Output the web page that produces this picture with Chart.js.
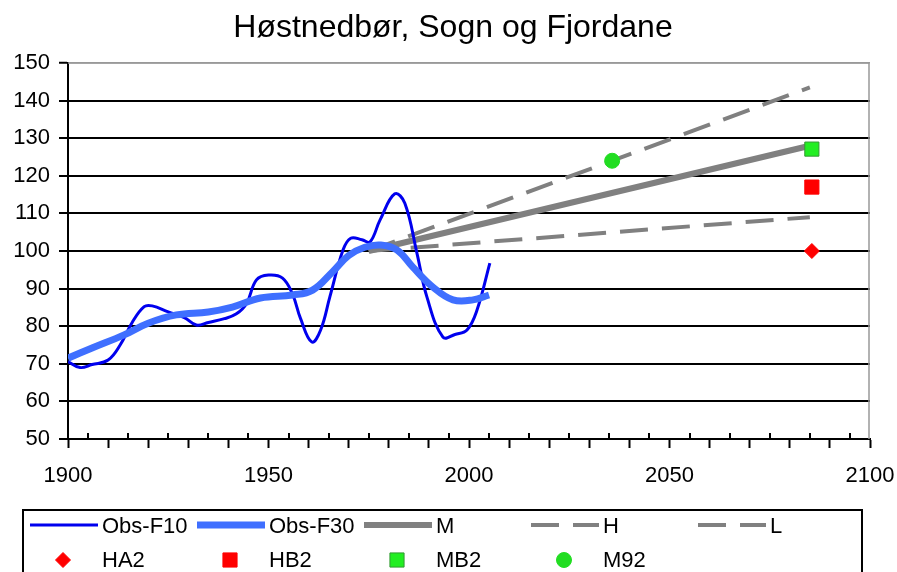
<!DOCTYPE html>
<html>
<head>
<meta charset="utf-8">
<title>Høstnedbør, Sogn og Fjordane</title>
<script src="https://cdn.jsdelivr.net/npm/chart.js@4.4.0/dist/chart.umd.min.js"></script>
<style>
  html, body { margin: 0; padding: 0; background: #fff; }
  #wrap { width: 897px; height: 572px; }
</style>
</head>
<body>
<div id="wrap"><canvas id="chart" width="897" height="572"></canvas></div>
<script>
const chartTitle = 'Høstnedbør, Sogn og Fjordane';

// Observed autumn precipitation, 10-year filter
const f10Years  = [1900, 1903, 1906, 1910, 1913, 1916, 1919, 1921, 1925, 1929, 1932, 1935, 1939, 1942, 1944.5, 1947, 1950, 1953.5, 1956, 1958, 1960.8, 1963, 1965.3, 1968.6, 1970.5, 1973.3, 1975.3, 1977.8, 1981.5, 1984, 1987, 1989.5, 1993.5, 1996.5, 1999.5, 2002, 2005.2];
const f10Values = [70.6, 69.0, 69.8, 71.0, 75.0, 81.0, 85.2, 85.4, 83.8, 82.3, 80.3, 81.0, 82.0, 83.3, 86.0, 92.3, 93.6, 92.8, 88.5, 82.0, 75.8, 79.0, 87.8, 100.3, 103.4, 103.0, 102.4, 108.2, 115.2, 112.7, 99.5, 87.8, 77.1, 77.8, 79.0, 84.3, 96.8];

// Observed, 30-year filter
const f30Years  = [1900, 1906, 1914, 1920, 1927, 1935, 1941, 1948, 1956, 1961, 1966, 1970, 1974, 1978, 1982, 1986, 1991, 1996, 2001, 2005];
const f30Values = [71.5, 74.2, 77.7, 80.8, 83.0, 83.8, 85.1, 87.5, 88.3, 89.6, 94.5, 98.8, 101.0, 101.6, 100.3, 95.7, 90.4, 87.0, 87.0, 88.3];

// Scenario lines (middle, high, low)
const scenYears = [1975, 2085];
const mValues = [100, 128];
const hValues = [100, 143.5];
const lValues = [100, 109];

// Single scenario points
const pointNames  = ['HA2', 'HB2', 'MB2', 'M92'];
const pointYears  = [2085.5, 2085.5, 2085.5, 2035.7];
const pointValues = [100, 117, 127.1, 124];

const xLabelYears = [1900, 1950, 2000, 2050, 2100];

function toXY(xs, ys) {
    return xs.map((x, i) => ({ x: x, y: ys[i] }));
}

const FONT = "'Liberation Sans', Arial, sans-serif";
const GREY = '#808080';

// Title, minor ticks, plot frame and legend
const extrasPlugin = {
    id: 'extras',
    afterDraw(chart) {
        const ctx = chart.ctx;
        const area = chart.chartArea;
        const xs = chart.scales.x;

        ctx.save();
        // title
        ctx.fillStyle = '#000';
        ctx.font = '32px ' + FONT;
        ctx.textAlign = 'center';
        ctx.textBaseline = 'alphabetic';
        ctx.fillText(chartTitle, 453, 37);

        // plot frame, top and right
        ctx.strokeStyle = '#999';
        ctx.lineWidth = 1.5;
        ctx.beginPath();
        ctx.moveTo(area.left, area.top);
        ctx.lineTo(area.right - 1, area.top);
        ctx.lineTo(area.right - 1, area.bottom);
        ctx.stroke();

        // minor ticks pointing inwards
        ctx.strokeStyle = '#000';
        ctx.lineWidth = 2;
        ctx.beginPath();
        for (let yr = 1905; yr < 2100; yr += 10) {
            const px = Math.round(xs.getPixelForValue(yr));
            ctx.moveTo(px, area.bottom);
            ctx.lineTo(px, area.bottom - 6);
        }
        ctx.stroke();

        // legend
        const lx = 23, ly = 510;
        ctx.strokeStyle = '#000';
        ctx.lineWidth = 2;
        ctx.strokeRect(lx, ly, 839, 80);

        ctx.font = '22px ' + FONT;
        ctx.textAlign = 'left';
        ctx.textBaseline = 'middle';
        ctx.fillStyle = '#000';
        const colW = 167, col0 = 30;
        const row1 = 525, row2 = 560;
        const lineItems = chart.data.datasets.filter(d => d.showLine !== false);
        lineItems.forEach((d, i) => {
            const x0 = col0 + i * colW;
            ctx.save();
            ctx.strokeStyle = d.borderColor;
            ctx.lineWidth = d.borderWidth;
            ctx.setLineDash(d.borderDash || []);
            ctx.beginPath();
            ctx.moveTo(x0, row1);
            ctx.lineTo(x0 + 68, row1);
            ctx.stroke();
            ctx.restore();
            ctx.fillText(d.label, x0 + 72, row1 + 2);
        });
        const pointItems = chart.data.datasets.filter(d => d.showLine === false);
        pointItems.forEach((d, i) => {
            const x0 = col0 + i * colW;
            ctx.save();
            ctx.fillStyle = d.backgroundColor;
            ctx.strokeStyle = d.borderColor;
            ctx.lineWidth = d.borderWidth;
            Chart.helpers.drawPoint(ctx, { pointStyle: d.pointStyle, radius: d.pointRadius, borderWidth: d.borderWidth }, x0 + 33, row2);
            ctx.restore();
            ctx.fillText(d.label, x0 + 72, row2 + 1);
        });
        ctx.restore();
    }
};

function pointSet(i, style, radius, fill, border) {
    return {
        label: pointNames[i],
        data: [{ x: pointYears[i], y: pointValues[i] }],
        showLine: false,
        pointStyle: style,
        pointRadius: radius,
        pointHoverRadius: radius,
        backgroundColor: fill,
        borderColor: border,
        borderWidth: 1,
        order: 0
    };
}

const ctx = document.getElementById('chart').getContext('2d');
const chart = new Chart(ctx, {
    type: 'line',
    data: {
        datasets: [
            { label: 'Obs-F10', data: toXY(f10Years, f10Values), borderColor: '#0000ee', borderWidth: 3, tension: 0.4, pointRadius: 0, fill: false, order: 2 },
            { label: 'Obs-F30', data: toXY(f30Years, f30Values), borderColor: '#3f6fff', borderWidth: 7, tension: 0.4, pointRadius: 0, fill: false, order: 1 },
            { label: 'M', data: toXY(scenYears, mValues), borderColor: GREY, borderWidth: 6, pointRadius: 0, fill: false, order: 3 },
            { label: 'H', data: toXY(scenYears, hValues), borderColor: GREY, borderWidth: 4, borderDash: [28, 14], pointRadius: 0, fill: false, order: 4 },
            { label: 'L', data: toXY(scenYears, lValues), borderColor: GREY, borderWidth: 4, borderDash: [28, 14], pointRadius: 0, fill: false, order: 5 },
            pointSet(0, 'rectRot', 7.5, '#ff0000', '#ff0000'),
            pointSet(1, 'rect', 10, '#ff0000', '#ff0000'),
            pointSet(2, 'rect', 10, '#22ee22', '#339933'),
            pointSet(3, 'circle', 7.5, '#22dd22', '#22dd22')
        ]
    },
    options: {
        responsive: false,
        animation: false,
        devicePixelRatio: 1,
        layout: { padding: { top: 63, left: 0, right: 27, bottom: 73 } },
        plugins: {
            legend: { display: false },
            title: { display: false },
            tooltip: { enabled: false }
        },
        scales: {
            x: {
                type: 'linear',
                min: 1900,
                max: 2100,
                afterFit(scale) {
                    scale.height = 60;
                    scale.paddingLeft = 0;
                    scale.paddingRight = 0;
                },
                ticks: {
                    stepSize: 10,
                    autoSkip: false,
                    maxRotation: 0,
                    padding: 15,
                    color: '#000',
                    font: { family: FONT, size: 22 },
                    callback: v => xLabelYears.includes(v) ? String(v) : ''
                },
                grid: { drawOnChartArea: false, drawTicks: true, tickLength: 9, tickColor: '#000', tickWidth: 2 },
                border: { display: true, color: '#000', width: 2 }
            },
            y: {
                min: 50,
                max: 150,
                afterFit(scale) {
                    scale.width = 68;
                    scale.paddingTop = 0;
                    scale.paddingBottom = 0;
                },
                ticks: {
                    stepSize: 10,
                    padding: 9,
                    color: '#000',
                    font: { family: FONT, size: 22 }
                },
                grid: {
                    color: ctx => ctx.tick && ctx.tick.value === 150 ? '#999' : '#000',
                    lineWidth: ctx => ctx.tick && ctx.tick.value === 150 ? 1.5 : 2,
                    tickLength: 9,
                    tickColor: '#000',
                    tickWidth: 2
                },
                border: { display: true, color: '#000', width: 2 }
            }
        }
    },
    plugins: [extrasPlugin]
});
</script>
</body>
</html>
